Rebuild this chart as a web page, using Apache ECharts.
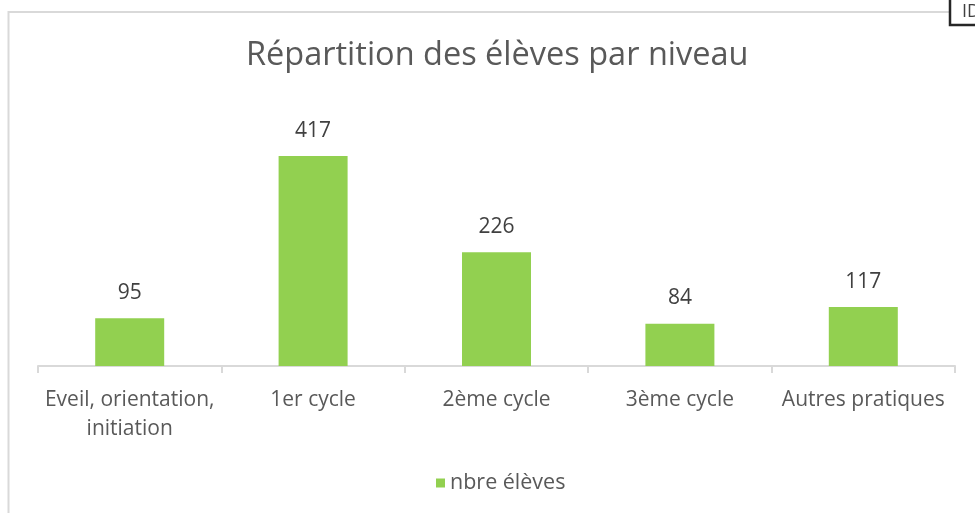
<!DOCTYPE html>
<html>
<head>
<meta charset="utf-8">
<script src="https://cdn.jsdelivr.net/npm/echarts@6/dist/echarts.min.js"></script>
<style>
  html, body { margin: 0; padding: 0; background: #fff; }
  #main { width: 975px; height: 513px; }
</style>
</head>
<body>
<div id="main"></div>
<script>
var myChart = echarts.init(document.getElementById('main'));

// catégories (axe x)
var categories = ['Eveil, orientation,\ninitiation', '1er cycle', '2ème cycle', '3ème cycle', 'Autres pratiques'];

// nombre d'élèves par niveau
var nbreEleves = [95, 417, 226, 84, 117];

var seriesName = 'nbre élèves';
var police = '"Open Sans", "Noto Sans", sans-serif';

var option = {
  animation: false,
  // titre
  title: {
    text: 'Répartition des élèves par niveau',
    left: 241,
    top: 34,
    textStyle: {
      fontFamily: police,
      fontSize: 32.5,
      fontWeight: 'normal',
      color: '#595959'
    }
  },
  // cadre + petite case "ID" en haut à droite
  graphic: [
    {
      type: 'rect',
      shape: { x: 8.5, y: 12, width: 1100, height: 700 },
      style: { fill: 'none', stroke: '#d9d9d9', lineWidth: 2 },
      silent: true
    },
    {
      type: 'rect',
      shape: { x: 950, y: -5, width: 40, height: 30 },
      style: { fill: '#fff', stroke: '#262626', lineWidth: 2.5 },
      silent: true
    },
    {
      type: 'text',
      left: 962,
      top: 3,
      style: { text: 'ID', font: '18px "Open Sans", sans-serif', fill: '#404040' },
      silent: true
    }
  ],
  legend: {
    data: [seriesName],
    left: 431,
    top: 467,
    itemWidth: 9,
    itemHeight: 9,
    itemGap: 7,
    icon: 'rect',
    textStyle: {
      fontFamily: police,
      fontSize: 21.5,
      color: '#595959'
    }
  },
  grid: {
    left: 38,
    right: 20,
    top: 139.4,
    bottom: 147,
    containLabel: false
  },
  xAxis: {
    type: 'category',
    data: categories,
    axisLine: { lineStyle: { color: '#d9d9d9', width: 2 } },
    axisTick: { show: true, length: 7, lineStyle: { color: '#d9d9d9', width: 2 } },
    axisLabel: {
      interval: 0,
      margin: 20,
      fontFamily: police,
      fontSize: 21,
      lineHeight: 29,
      color: '#595959'
    }
  },
  yAxis: {
    type: 'value',
    min: 0,
    max: 450,
    show: false,
    splitLine: { show: false }
  },
  series: [{
    name: seriesName,
    type: 'bar',
    data: nbreEleves,
    barWidth: 69,
    itemStyle: { color: '#92d050' },
    label: {
      show: true,
      position: 'top',
      distance: 15,
      fontFamily: police,
      fontSize: 21,
      color: '#404040'
    }
  }]
};

myChart.setOption(option);
</script>
</body>
</html>
